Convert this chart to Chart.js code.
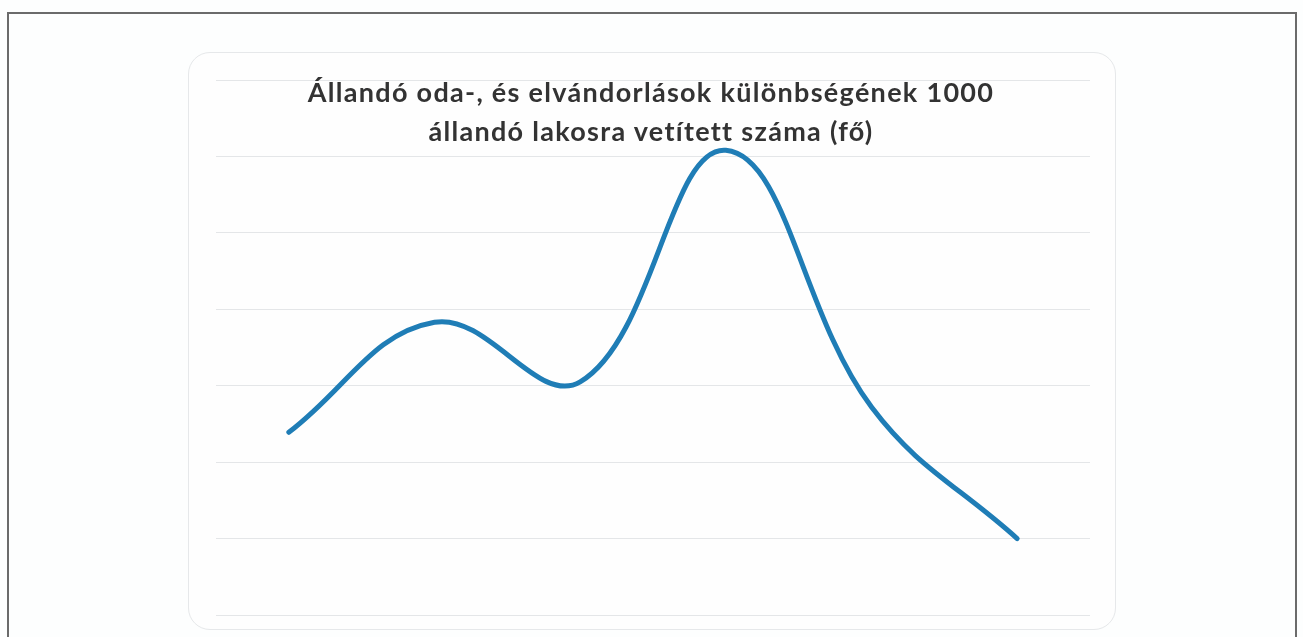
<!DOCTYPE html>
<html lang="hu">
<head>
<meta charset="utf-8">
<title>Vándorlási különbözet</title>
<script src="https://cdn.jsdelivr.net/npm/chart.js@4/dist/chart.umd.min.js"></script>
<style>
  html, body { margin: 0; padding: 0; background: #fdfefe; overflow: hidden; }
  body { width: 1303px; height: 637px; position: relative; }
  .frame {
    position: absolute; left: 7px; top: 12px; width: 1290px; height: 700px;
    border: 2px solid #6b6b6b; box-sizing: border-box;
  }
  .card {
    position: absolute; left: 188px; top: 52px; width: 928px; height: 578px;
    border: 1px solid #e6e8ea; border-radius: 22px; box-sizing: border-box;
    background: #fefefe;
  }
  #chart { position: absolute; left: 188px; top: 52px; }
  .title {
    position: absolute; left: 206px; top: 72px; width: 890px;
    text-align: center; font-family: Lato, "Open Sans", sans-serif;
    font-weight: 700; font-size: 27px; line-height: 39px; letter-spacing: 1.3px;
    color: #333;
  }
</style>
</head>
<body>
<div class="frame"></div>
<div class="card"></div>
<canvas id="chart" width="928" height="578"></canvas>
<div class="title">Állandó oda-, és elvándorlások különbségének 1000<br>állandó lakosra vetített száma (fő)</div>
<script>
// ---- Data (axis has no visible labels) ----
const categories = ['1', '2', '3', '4', '5', '6'];
const values = [2.39, 3.83, 3.05, 6.08, 2.72, 1.00];
const yTicks = { min: 0, max: 7, step: 1 };

const LINE_COLOR = '#1f7db6';
const GRID_COLOR = '#e4e6e8';

new Chart(document.getElementById('chart').getContext('2d'), {
  type: 'line',
  data: {
    labels: categories,
    datasets: [{
      data: values,
      borderColor: LINE_COLOR,
      borderWidth: 5,
      borderCapStyle: 'round',
      borderJoinStyle: 'round',
      tension: 0.4,
      pointRadius: 0,
      fill: false
    }]
  },
  options: {
    responsive: false,
    animation: false,
    layout: { padding: { left: 28, right: 26, top: 28, bottom: 15 } },
    plugins: { legend: { display: false }, tooltip: { enabled: false }, title: { display: false } },
    scales: {
      x: { display: false, offset: true },
      y: {
        min: yTicks.min, max: yTicks.max,
        ticks: { display: false, stepSize: yTicks.step },
        border: { display: false },
        grid: { color: GRID_COLOR, lineWidth: 1, drawTicks: false }
      }
    }
  }
});
</script>
</body>
</html>
